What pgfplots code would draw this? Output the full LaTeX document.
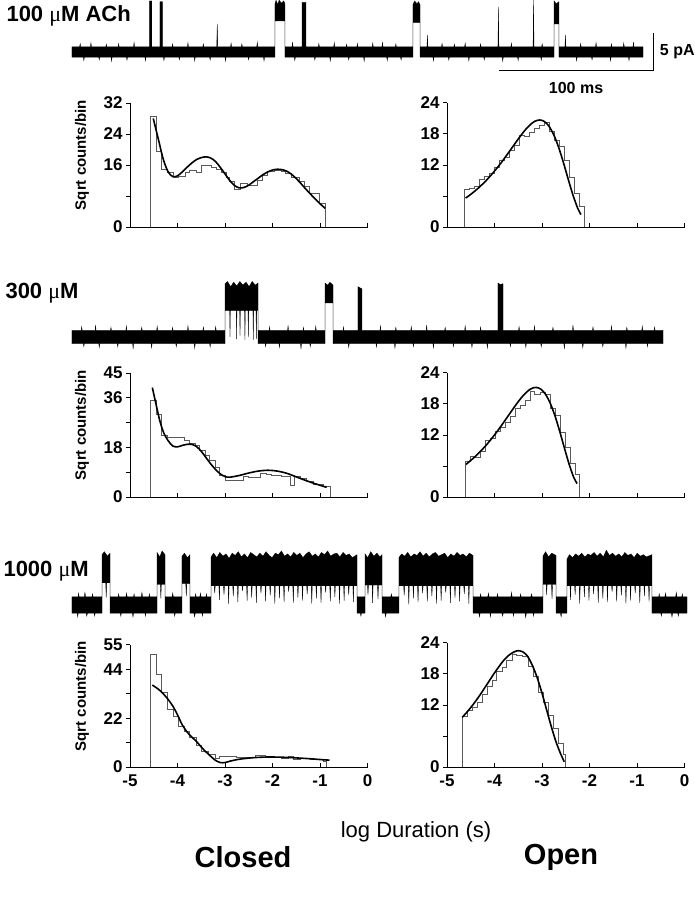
\documentclass[border=0pt]{standalone}
\usepackage{fontspec}
\setmainfont{Liberation Sans}
\newfontfamily\symfont{Liberation Serif}
\usepackage{pgfplots}
\pgfplotsset{compat=1.18}

\newcommand{\mic}{{\symfont\mdseries μ}}

\pgfplotsset{
  histax/.style={x=47.5pt, xmin=-5, xmax=0, ymin=0, enlargelimits=false,
    axis x line*=bottom, axis y line*=left,
    axis line style={-, line width=0.9pt},
    tick align=outside, major tick length=4pt,
    every x tick/.append style={yshift=4pt},
    tick style={line width=0.9pt, black},
    xtick={-5,-4,-3,-2,-1,0}, xticklabels={},
    ticklabel style={font=\bfseries\fontsize{17}{17}\selectfont},
    anchor=south west, clip=false},
  ylab/.style={ylabel={Sqrt counts/bin},
    ylabel style={at={(rel axis cs:-0.202,0.58)}, anchor=center,
      font=\bfseries\fontsize{15}{15}\selectfont}},
  bottomrow/.style={xticklabels={-5,-4,-3,-2,-1,0}},
  hst/.style={const plot, no marks, draw=black!65, line width=0.8pt},
  fit/.style={smooth, no marks, black, line width=1.6pt},
  trace/.style={hide axis, clip=false, x=1.54pt, y=7.4pt, xmin=0, ymin=-2,
    ymax=8, enlargelimits=false, anchor=south west},
  tr/.style={fill=black, draw=black, line width=0.3pt},
}

\begin{document}
\begin{tikzpicture}
\path[use as bounding box] (0pt,0pt) rectangle (695pt,900pt);

% ---------------- traces ----------------
\begin{axis}[trace, xmax=371, at={(72pt,833.2pt)}]
\addplot[tr] coordinates {
(0,0.7)(5,0.7)(5.3,1.15)(5.6,0.7)(12,0.7)(12.3,1.25)(12.6,0.7)(22,0.7)(22.3,1.05)(22.6,0.7)
(30,0.7)(30.3,1.15)(30.6,0.7)(40,0.7)(40.3,1.3)(40.6,0.7)
(50.3,0.7)(50.3,6.9)(51.8,6.9)(51.8,0.7)
(57.1,0.7)(57.1,6.8)(58.8,6.8)(58.8,0.7)
(65,0.7)(65.3,1.1)(65.6,0.7)(75,0.7)(75.3,1.25)(75.6,0.7)(85,0.7)(85.3,1.1)(85.6,0.7)
(94,0.7)(94.3,3.8)(94.6,0.7)(103,0.7)(103.3,1.2)(103.6,0.7)(110,0.7)(110.3,1.1)(110.6,0.7)
(120,0.7)(120.3,1.3)(120.6,0.7)
(131.8,0.7)(131.8,6.5)(132.5,7.0)(133.5,6.4)(134.5,7.0)(136,6.6)(137.5,6.9)(138.3,6.5)(138.3,0.7)
(142.9,0.7)(143.2,1.35)(143.5,0.7)
(149.4,0.7)(149.4,6.7)(151.9,6.7)(151.9,0.7)
(160,0.7)(160.3,1.15)(160.6,0.7)(170,0.7)(170.3,1.25)(170.6,0.7)(178,0.7)(178.3,1.05)(178.6,0.7)
(185,0.7)(185.3,1.15)(185.6,0.7)(195,0.7)(195.3,1.2)(195.6,0.7)
(201.3,0.7)(201.6,1.35)(201.9,0.7)(210,0.7)(210.3,1.1)(210.6,0.7)
(221.4,0.7)(221.4,6.4)(222.5,6.9)(224,6.5)(225,6.8)(226,6.4)(226,0.7)
(230.5,0.7)(230.8,2.3)(231.1,0.7)(240,0.7)(240.3,1.15)(240.6,0.7)(248,0.7)(248.3,1.05)(248.6,0.7)
(255,0.7)(255.3,1.2)(255.6,0.7)(265,0.7)(265.3,1.1)(265.6,0.7)
(276.6,0.7)(276.9,6.1)(277.2,0.7)(285,0.7)(285.3,1.2)(285.6,0.7)
(299.4,0.7)(299.7,7.0)(300.0,0.7)(305,0.7)(305.3,1.1)(305.6,0.7)
(313.0,0.7)(313.0,6.9)(314.5,6.5)(316.2,6.8)(316.2,0.7)
(320.1,0.7)(320.4,2.3)(320.7,0.7)(330,0.7)(330.3,1.15)(330.6,0.7)(340,0.7)(340.3,1.25)(340.6,0.7)
(350,0.7)(350.3,1.1)(350.6,0.7)(358,0.7)(358.3,1.2)(358.6,0.7)
(364.3,0.7)(364.6,1.35)(364.9,0.7)(370.8,0.7)
(370.8,-0.7)(362,-0.7)(361.7,-1.15)(361.4,-0.7)(350,-0.7)(349.7,-1.2)(349.4,-0.7)
(338,-0.7)(337.7,-1.05)(337.4,-0.7)(328,-0.7)(327.7,-1.2)(327.4,-0.7)
(316.2,-0.7)(316.2,3.8)(313.0,3.8)(313.0,-0.7)
(305,-0.7)(304.7,-1.1)(304.4,-0.7)(290,-0.7)(289.7,-1.15)(289.4,-0.7)(280,-0.7)(279.7,-1.25)(279.4,-0.7)
(268,-0.7)(267.7,-1.05)(267.4,-0.7)(258,-0.7)(257.7,-1.2)(257.4,-0.7)(245,-0.7)(244.7,-1.1)(244.4,-0.7)
(235,-0.7)(234.7,-1.2)(234.4,-0.7)
(226,-0.7)(226,4.0)(221.4,4.0)(221.4,-0.7)
(214,-0.7)(213.7,-1.1)(213.4,-0.7)(205,-0.7)(204.7,-1.15)(204.4,-0.7)(190,-0.7)(189.7,-1.25)(189.4,-0.7)
(180,-0.7)(179.7,-1.05)(179.4,-0.7)(168,-0.7)(167.7,-1.2)(167.4,-0.7)(158,-0.7)(157.7,-1.1)(157.4,-0.7)
(145,-0.7)(144.7,-1.15)(144.4,-0.7)
(138.3,-0.7)(138.3,4.2)(131.8,4.2)(131.8,-0.7)
(125,-0.7)(124.7,-1.2)(124.4,-0.7)(115,-0.7)(114.7,-1.05)(114.4,-0.7)(100,-0.7)(99.7,-1.25)(99.4,-0.7)
(90,-0.7)(89.7,-1.1)(89.4,-0.7)(80,-0.7)(79.7,-1.2)(79.4,-0.7)(70,-0.7)(69.7,-1.05)(69.4,-0.7)
(60,-0.7)(59.7,-1.15)(59.4,-0.7)(48,-0.7)(47.7,-1.2)(47.4,-0.7)(36,-0.7)(35.7,-1.1)(35.4,-0.7)
(26,-0.7)(25.7,-1.25)(25.4,-0.7)(18,-0.7)(17.7,-1.05)(17.4,-0.7)(8,-0.7)(7.7,-1.15)(7.4,-0.7)(0,-0.7)
} -- cycle;
% scale bar: 100 ms, 5 pA
\addplot[black, line width=0.9pt] coordinates {(277.3,-2.43)(377.3,-2.43)(377.3,2.57)};
\node[anchor=west, font=\bfseries\fontsize{16}{16}\selectfont] at (axis cs:379.5,0.07) {5 pA};
\node[font=\bfseries\fontsize{16}{16}\selectfont] at (axis cs:327.3,-4.86) {100 ms};
\end{axis}

\begin{axis}[trace, xmax=384, at={(72pt,548.2pt)}]
\addplot[tr] coordinates {
(0,0.9)(6,0.9)(6.3,1.4)(6.6,0.9)(15,0.9)(15.3,1.6)(15.6,0.9)(25,0.9)(25.3,1.3)(25.6,0.9)
(35,0.9)(35.3,1.5)(35.6,0.9)(45,0.9)(45.3,1.3)(45.6,0.9)(55,0.9)(55.3,1.45)(55.6,0.9)
(65,0.9)(65.3,1.3)(65.6,0.9)(75,0.9)(75.3,1.5)(75.6,0.9)(85,0.9)(85.3,1.35)(85.6,0.9)(93,0.9)(93.3,1.4)(93.6,0.9)
(99.4,0.9)(99.4,7.2)(101,7.5)(103,6.8)(105,7.4)(107,6.9)(109,7.5)(111,7.0)(113,7.4)(115,6.8)(117,7.5)(119,7.0)(120.8,7.3)(120.8,0.9)
(128,0.9)(128.3,1.4)(128.6,0.9)(140,0.9)(140.3,1.5)(140.6,0.9)(150,0.9)(150.3,1.3)(150.6,0.9)(158,0.9)(158.3,1.45)(158.6,0.9)
(164.3,0.9)(164.3,7.3)(166,7.0)(167.5,7.4)(169.5,7.0)(169.5,0.9)
(176,0.9)(176.3,1.35)(176.6,0.9)
(185.7,0.9)(185.7,6.8)(188.3,6.5)(188.3,0.9)
(200,0.9)(200.3,1.5)(200.6,0.9)(210,0.9)(210.3,1.3)(210.6,0.9)(220,0.9)(220.3,1.4)(220.6,0.9)
(230,0.9)(230.3,1.6)(230.6,0.9)(242,0.9)(242.3,1.3)(242.6,0.9)(255,0.9)(255.3,1.5)(255.6,0.9)
(265,0.9)(265.3,1.35)(265.6,0.9)
(276.6,0.9)(276.6,7.3)(278,7.1)(279.9,7.2)(279.9,0.9)
(290,0.9)(290.3,1.4)(290.6,0.9)(300,0.9)(300.3,1.5)(300.6,0.9)(312,0.9)(312.3,1.3)(312.6,0.9)
(325,0.9)(325.3,1.6)(325.6,0.9)(338,0.9)(338.3,1.35)(338.6,0.9)(350,0.9)(350.3,1.5)(350.6,0.9)
(360,0.9)(360.3,1.3)(360.6,0.9)(370,0.9)(370.3,1.45)(370.6,0.9)(378,0.9)(378.3,1.35)(378.6,0.9)(383.8,0.9)
(383.8,-0.9)(374,-0.9)(373.7,-1.3)(373.4,-0.9)(360,-0.9)(359.7,-1.5)(359.4,-0.9)(345,-0.9)(344.7,-1.3)(344.4,-0.9)
(332,-0.9)(331.7,-1.45)(331.4,-0.9)(320,-0.9)(319.7,-1.6)(319.4,-0.9)(305,-0.9)(304.7,-1.3)(304.4,-0.9)
(295,-0.9)(294.7,-1.4)(294.4,-0.9)(285,-0.9)(284.7,-1.3)(284.4,-0.9)(270,-0.9)(269.7,-1.5)(269.4,-0.9)
(260,-0.9)(259.7,-1.4)(259.4,-0.9)(248,-0.9)(247.7,-1.3)(247.4,-0.9)(235,-0.9)(234.7,-1.45)(234.4,-0.9)
(222,-0.9)(221.7,-1.3)(221.4,-0.9)(210,-0.9)(209.7,-1.5)(209.4,-0.9)(198,-0.9)(197.7,-1.35)(197.4,-0.9)
(180,-0.9)(179.7,-1.4)(179.4,-0.9)
(169.5,-0.9)(169.5,4.6)(164.3,4.6)(164.3,-0.9)
(155,-0.9)(154.7,-1.3)(154.4,-0.9)(149,-0.9)(148.7,-1.6)(148.4,-0.9)(135,-0.9)(134.7,-1.4)(134.4,-0.9)(126,-0.9)(125.7,-1.3)(125.4,-0.9)
(120.8,-0.9)(120.8,3.6)(119.9,3.6)(119.7,-0.3)(119.5,3.6)(117.9,3.6)(117.7,-0.4)(117.5,3.6)
(114.7,3.6)(114.5,0.0)(114.3,3.6)(112.5,3.6)(112.3,-0.4)(112.1,3.6)(109.3,3.6)(109.1,0.2)(108.9,3.6)
(107.1,3.6)(106.9,-0.3)(106.7,3.6)(102.8,3.6)(102.6,0.0)(102.4,3.6)(99.4,3.6)(99.4,-0.9)
(90,-0.9)(89.7,-1.35)(89.4,-0.9)(80,-0.9)(79.7,-1.5)(79.4,-0.9)(68,-0.9)(67.7,-1.3)(67.4,-0.9)
(52,-0.9)(51.7,-1.45)(51.4,-0.9)(40,-0.9)(39.7,-1.6)(39.4,-0.9)(30,-0.9)(29.7,-1.3)(29.4,-0.9)
(18,-0.9)(17.7,-1.4)(17.4,-0.9)(8,-0.9)(7.7,-1.3)(7.4,-0.9)(0,-0.9)
} -- cycle;
\end{axis}

\begin{axis}[trace, xmax=400, at={(72pt,280.2pt)}]
\addplot[tr] coordinates {
(0,1.1)(4,1.1)(4.3,1.6)(4.6,1.1)(8,1.1)(8.4,1.7)(8.8,1.1)(13,1.1)(13.3,1.5)(13.6,1.1)
(19.5,1.1)(19.5,6.8)(21,7.2)(23,6.6)(24.7,7.0)(24.7,1.1)
(30,1.1)(30.3,1.5)(30.6,1.1)(35,1.1)(35.4,1.6)(35.8,1.1)(40,1.1)(40.3,1.5)(40.6,1.1)(45,1.1)(45.4,1.7)(45.8,1.1)(50,1.1)(50.3,1.5)(50.6,1.1)
(55.2,1.1)(55.2,7.1)(57,6.5)(58.5,7.3)(60.4,6.8)(60.4,1.1)
(65,1.1)(65.4,1.6)(65.8,1.1)
(71.4,1.1)(71.4,6.6)(73,7.0)(75,6.4)(76.6,6.8)(76.6,1.1)
(80,1.1)(80.3,1.5)(80.6,1.1)(83,1.1)(83.4,1.6)(83.8,1.1)(87,1.1)(87.3,1.5)(87.6,1.1)
(90.3,1.1)(90.3,6.5)(92,7.0)(94,6.4)(96,7.1)(98,6.6)(100,6.9)(102,6.3)(104,7.0)(106,6.7)(108,7.2)
(110,6.5)(112,6.9)(114,6.4)(116,7.1)(118,6.8)(120,6.5)(122,7.0)(124,6.6)(126,7.2)(128,6.7)(130,6.4)
(132,7.0)(134,6.8)(136,7.3)(138,6.6)(140,6.9)(142,6.5)(144,7.1)(146,6.7)(148,7.0)(150,6.4)(152,6.9)
(154,7.2)(156,6.6)(158,6.9)(160,6.5)(162,7.1)(164,6.8)(166,7.3)(168,6.6)(170,6.9)(172,7.0)(174,6.5)
(176,7.1)(178,6.7)(180,6.9)(182,6.4)(185.1,6.8)(185.1,1.1)
(190.3,1.1)(190.3,6.9)(192,6.4)(194,7.2)(196,6.6)(198,7.0)(200,6.5)(201.3,6.8)(201.3,1.1)
(207,1.1)(207.4,1.5)(207.8,1.1)
(212.3,1.1)(212.3,6.4)(214,6.9)(216,6.6)(218,7.1)(220,6.5)(222,6.9)(224,6.7)(226,7.2)(228,6.6)
(230,7.0)(232,6.5)(234,6.9)(236,7.1)(238,6.6)(240,6.8)(242,7.0)(244,6.4)(246,6.9)(248,6.6)(250,7.1)
(252,6.7)(254,6.9)(256,6.5)(258,7.0)(260.4,6.7)(260.4,1.1)
(265,1.1)(265.3,1.5)(265.6,1.1)(270,1.1)(270.4,1.6)(270.8,1.1)(276,1.1)(276.3,1.5)(276.6,1.1)
(285,1.1)(285.4,1.7)(285.8,1.1)(291,1.1)(291.3,1.5)(291.6,1.1)(298,1.1)(298.4,1.5)(298.8,1.1)
(305.8,1.1)(305.8,6.6)(307.5,7.2)(309.5,6.5)(311.5,7.0)(314.3,6.7)(314.3,1.1)
(321.4,1.1)(321.4,6.2)(323,6.8)(325,6.4)(327,6.9)(329,6.6)(331,7.0)(333,6.5)(335,6.9)(337,6.7)
(339,7.1)(341,6.6)(343,7.0)(345,6.5)(347,7.4)(349,6.7)(351,7.0)(353,6.6)(355,6.9)(357,6.5)(359,7.1)
(361,6.7)(363,6.9)(365,6.4)(367,7.0)(369,6.6)(371,6.8)(373,6.5)(376.6,6.8)(376.6,1.1)
(381,1.1)(381.3,1.5)(381.6,1.1)(385,1.1)(385.4,1.6)(385.8,1.1)(392,1.1)(392.4,1.7)(392.8,1.1)(396,1.1)(396.3,1.5)(396.6,1.1)(399.4,1.1)
(399.4,-1.1)(394,-1.1)(393.7,-1.5)(393.4,-1.1)(390,-1.1)(389.6,-1.6)(389.2,-1.1)(383,-1.1)(382.7,-1.5)(382.4,-1.1)
(376.6,-1.1)(376.6,2.6)(375,2.6)(374.7,0.5)(374.4,2.6)(372,2.6)(371.7,1.2)(371.4,2.6)(369,2.6)(368.7,0.3)(368.4,2.6)
(366,2.6)(365.7,1.6)(365.4,2.6)(363,2.6)(362.7,0.6)(362.4,2.6)(360,2.6)(359.7,0.2)(359.4,2.6)
(357,2.6)(356.7,1.3)(356.4,2.6)(354,2.6)(353.7,0.5)(353.4,2.6)(351,2.6)(350.7,1.8)(350.4,2.6)
(348,2.6)(347.7,0.4)(347.4,2.6)(345,2.6)(344.7,0.9)(344.4,2.6)(342,2.6)(341.7,0.3)(341.4,2.6)
(339,2.6)(338.7,1.5)(338.4,2.6)(336,2.6)(335.7,0.6)(335.4,2.6)(333,2.6)(332.7,1.1)(332.4,2.6)
(330,2.6)(329.7,0.2)(329.4,2.6)(327,2.6)(326.7,1.4)(326.4,2.6)(324,2.6)(323.7,0.7)(323.4,2.6)(321.4,2.6)(321.4,-1.1)
(318,-1.1)(317.6,-1.6)(317.2,-1.1)
(314.3,-1.1)(314.3,2.8)(312,2.8)(311.7,0.8)(311.4,2.8)(308.5,2.8)(308.2,1.4)(307.9,2.8)(305.8,2.8)(305.8,-1.1)
(300,-1.1)(299.7,-1.5)(299.4,-1.1)(295,-1.1)(294.6,-1.7)(294.2,-1.1)(287,-1.1)(286.7,-1.5)(286.4,-1.1)
(280,-1.1)(279.6,-1.5)(279.2,-1.1)(272,-1.1)(271.7,-1.6)(271.4,-1.1)(265,-1.1)(264.6,-1.6)(264.2,-1.1)
(260.4,-1.1)(260.4,2.6)(258,2.6)(257.7,0.2)(257.4,2.6)(255,2.6)(254.7,1.5)(254.4,2.6)(252,2.6)(251.7,0.5)(251.4,2.6)
(249,2.6)(248.7,1.0)(248.4,2.6)(246,2.6)(245.7,0.3)(245.4,2.6)(243,2.6)(242.7,1.7)(242.4,2.6)
(240,2.6)(239.7,0.6)(239.4,2.6)(237,2.6)(236.7,0.2)(236.4,2.6)(234,2.6)(233.7,1.2)(233.4,2.6)
(231,2.6)(230.7,0.5)(230.4,2.6)(228,2.6)(227.7,1.6)(227.4,2.6)(225,2.6)(224.7,0.4)(224.4,2.6)
(222,2.6)(221.7,0.9)(221.4,2.6)(219,2.6)(218.7,0.1)(218.4,2.6)(216,2.6)(215.7,1.3)(215.4,2.6)(212.3,2.6)(212.3,-1.1)
(204,-1.1)(203.6,-1.6)(203.2,-1.1)
(201.3,-1.1)(201.3,2.7)(199,2.7)(198.7,0.8)(198.4,2.7)(195.5,2.7)(195.2,0.3)(194.9,2.7)(192.5,2.7)(192.2,1.4)(191.9,2.7)(190.3,2.7)(190.3,-1.1)
(188,-1.1)(187.6,-1.5)(187.2,-1.1)
(185.1,-1.1)(185.1,2.6)(183,2.6)(182.7,0.4)(182.4,2.6)(180,2.6)(179.7,1.4)(179.4,2.6)(177,2.6)(176.7,0.6)(176.4,2.6)
(174,2.6)(173.7,0.2)(173.4,2.6)(171,2.6)(170.7,1.1)(170.4,2.6)(168,2.6)(167.7,0.5)(167.4,2.6)
(165,2.6)(164.7,1.7)(164.4,2.6)(162,2.6)(161.7,0.3)(161.4,2.6)(159,2.6)(158.7,0.9)(158.4,2.6)
(156,2.6)(155.7,0.2)(155.4,2.6)(153,2.6)(152.7,1.5)(152.4,2.6)(150,2.6)(149.7,0.6)(149.4,2.6)
(147,2.6)(146.7,1.0)(146.4,2.6)(144,2.6)(143.7,0.3)(143.4,2.6)(141,2.6)(140.7,1.8)(140.4,2.6)
(138,2.6)(137.7,0.4)(137.4,2.6)(135,2.6)(134.7,0.9)(134.4,2.6)(132,2.6)(131.7,0.2)(131.4,2.6)
(129,2.6)(128.7,1.3)(128.4,2.6)(126,2.6)(125.7,0.5)(125.4,2.6)(123,2.6)(122.7,1.6)(122.4,2.6)
(120,2.6)(119.7,0.3)(119.4,2.6)(117,2.6)(116.7,1.0)(116.4,2.6)(114,2.6)(113.7,0.6)(113.4,2.6)
(111,2.6)(110.7,1.9)(110.4,2.6)(108,2.6)(107.7,0.4)(107.4,2.6)(105,2.6)(104.7,1.2)(104.4,2.6)
(102,2.6)(101.7,0.2)(101.4,2.6)(99,2.6)(98.7,1.4)(98.4,2.6)(96,2.6)(95.7,0.7)(95.4,2.6)
(93,2.6)(92.7,1.6)(92.4,2.6)(90.3,2.6)(90.3,-1.1)
(85,-1.1)(84.7,-1.5)(84.4,-1.1)(80,-1.1)(79.6,-1.6)(79.2,-1.1)
(76.6,-1.1)(76.6,2.9)(74.5,2.9)(74.2,1.2)(73.9,2.9)(71.4,2.9)(71.4,-1.1)
(67,-1.1)(66.7,-1.5)(66.4,-1.1)
(60.4,-1.1)(60.4,2.8)(58,2.8)(57.7,0.9)(57.4,2.8)(55.2,2.8)(55.2,-1.1)
(48,-1.1)(47.7,-1.5)(47.4,-1.1)(40,-1.1)(39.6,-1.6)(39.2,-1.1)(32,-1.1)(31.7,-1.5)(31.4,-1.1)
(24.7,-1.1)(24.7,3.0)(22.5,3.0)(22.2,1.0)(21.9,3.0)(19.5,3.0)(19.5,-1.1)
(15,-1.1)(14.7,-1.5)(14.4,-1.1)(10,-1.1)(9.6,-1.5)(9.2,-1.1)(4,-1.1)(3.7,-1.6)(3.4,-1.1)(0,-1.1)
} -- cycle;
\end{axis}

% ---------------- histograms, row 1 ----------------
\begin{axis}[histax, ylab, y=3.875pt, ymax=32, ytick={0,8,16,24,32},
  yticklabels={0,,16,24,32}, at={(130pt,673pt)}]
\addplot[hst] coordinates {(-4.58,0)(-4.58,28.6)(-4.44,19.4)(-4.33,14.9)(-4.21,14.0)(-4.08,12.7)
(-3.98,13.0)(-3.84,14.0)(-3.74,14.6)(-3.60,14.1)(-3.50,16.0)(-3.29,15.5)(-3.19,14.9)(-3.08,14.0)
(-2.98,12.7)(-2.91,11.7)(-2.81,9.7)(-2.67,11.3)(-2.53,10.8)(-2.32,12.1)(-2.21,13.4)(-2.11,14.3)
(-1.97,14.7)(-1.82,14.4)(-1.72,13.9)(-1.61,12.9)(-1.44,11.7)(-1.33,10.4)(-1.23,8.7)(-1.02,6.1)(-0.88,0)};
\addplot[fit] coordinates {(-4.51,28.0)(-4.4,22.5)(-4.3,17.5)(-4.2,14.3)(-4.1,13.0)(-4.0,13.2)
(-3.9,14.2)(-3.8,15.4)(-3.7,16.5)(-3.6,17.4)(-3.5,17.9)(-3.4,18.1)(-3.3,17.8)(-3.2,16.9)(-3.1,15.4)
(-3.0,13.7)(-2.9,12.0)(-2.8,10.7)(-2.7,10.1)(-2.6,10.2)(-2.5,10.8)(-2.4,11.7)(-2.3,12.6)(-2.2,13.5)
(-2.1,14.2)(-2.0,14.7)(-1.9,14.9)(-1.8,14.8)(-1.7,14.4)(-1.6,13.6)(-1.5,12.5)(-1.4,11.2)(-1.3,9.8)
(-1.2,8.5)(-1.1,7.2)(-1.0,6.0)(-0.89,4.8)};
\end{axis}

\begin{axis}[histax, y=5.17pt, ymax=24, ytick={0,6,12,18,24},
  yticklabels={0,,12,18,24}, at={(447pt,673pt)}]
\addplot[hst] coordinates {(-4.635,0)(-4.635,7.35)(-4.53,7.4)(-4.425,7.8)(-4.32,9.2)(-4.215,9.8)
(-4.11,10.4)(-4.005,11.5)(-3.90,12.9)(-3.795,13.4)(-3.69,14.8)(-3.585,15.7)(-3.48,17.8)(-3.375,17.5)
(-3.27,18.3)(-3.165,19.0)(-3.06,19.6)(-2.955,20.3)(-2.85,18.5)(-2.745,16.8)(-2.64,15.5)(-2.535,12.8)
(-2.43,9.5)(-2.325,6.5)(-2.22,3.9)(-2.115,0)};
\addplot[fit] coordinates {(-4.61,5.6)(-4.55,5.97)(-4.45,6.68)(-4.35,7.45)(-4.25,8.31)(-4.15,9.24)
(-4.05,10.27)(-3.95,11.37)(-3.85,12.55)(-3.75,13.80)(-3.65,15.09)(-3.55,16.38)(-3.45,17.65)
(-3.35,18.81)(-3.25,19.77)(-3.15,20.45)(-3.05,20.70)(-2.95,20.41)(-2.85,19.45)(-2.75,17.78)
(-2.65,15.41)(-2.55,12.49)(-2.45,9.30)(-2.35,6.23)(-2.25,3.66)(-2.18,2.4)};
\end{axis}

% ---------------- histograms, row 2 ----------------
\begin{axis}[histax, ylab, y=2.756pt, ymax=45, ytick={0,9,18,27,36,45},
  yticklabels={0,,18,,36,45}, at={(130pt,403pt)}]
\addplot[hst] coordinates {(-4.58,0)(-4.58,34.9)(-4.45,30.1)(-4.33,22.3)(-4.21,21.5)(-3.86,20.5)
(-3.74,19.5)(-3.63,18.7)(-3.53,16.9)(-3.42,15.1)(-3.32,13.3)(-3.21,10.7)(-3.11,7.9)(-3.00,6.1)
(-2.61,7.3)(-2.51,7.1)(-2.26,8.7)(-2.12,8.2)(-2.02,7.9)(-1.81,7.3)(-1.63,4.3)(-1.53,7.3)(-1.42,6.7)
(-1.28,5.5)(-1.14,4.7)(-0.93,3.7)(-0.79,0)};
\addplot[fit] coordinates {(-4.53,39.7)(-4.45,33.5)(-4.37,27.5)(-4.29,23.3)(-4.2,20.5)(-4.1,18.5)
(-4.0,18.2)(-3.9,18.7)(-3.8,19.1)(-3.7,19.1)(-3.6,18.3)(-3.5,16.6)(-3.4,14.3)(-3.3,12.0)(-3.2,10.0)
(-3.1,8.4)(-3.0,7.4)(-2.9,7.2)(-2.7,7.8)(-2.5,8.7)(-2.3,9.4)(-2.1,9.7)(-1.9,9.4)(-1.7,8.6)(-1.5,7.3)
(-1.3,6.0)(-1.1,4.8)(-0.86,3.5)};
\end{axis}

\begin{axis}[histax, y=5.17pt, ymax=24, ytick={0,6,12,18,24},
  yticklabels={0,,12,18,24}, at={(447pt,403pt)}]
\addplot[hst] coordinates {(-4.62,0)(-4.62,6.9)(-4.51,7.9)(-4.41,7.6)(-4.30,8.9)(-4.20,11.0)
(-4.09,11.3)(-3.99,12.6)(-3.88,13.5)(-3.78,14.5)(-3.67,15.5)(-3.57,17.1)(-3.46,17.7)(-3.36,18.6)
(-3.25,20.5)(-3.15,19.9)(-3.04,20.2)(-2.93,19.9)(-2.83,17.1)(-2.72,15.8)(-2.62,12.5)(-2.51,9.5)
(-2.41,6.5)(-2.30,4.4)(-2.22,0)};
\addplot[fit] coordinates {(-4.60,6.3)(-4.53,6.84)(-4.43,7.63)(-4.33,8.51)(-4.23,9.47)(-4.13,10.51)
(-4.03,11.65)(-3.93,12.86)(-3.83,14.13)(-3.73,15.45)(-3.63,16.78)(-3.53,18.07)(-3.43,19.26)
(-3.33,20.25)(-3.23,20.94)(-3.13,21.2)(-3.03,20.90)(-2.93,19.92)(-2.83,18.21)(-2.73,15.78)
(-2.63,12.79)(-2.53,9.53)(-2.43,6.38)(-2.33,3.74)(-2.26,2.6)};
\end{axis}

% ---------------- histograms, row 3 ----------------
\begin{axis}[histax, ylab, bottomrow, y=2.22pt, ymax=55, ytick={0,11,22,33,44,55},
  yticklabels={0,,22,,44,55}, at={(130pt,133pt)}]
\addplot[hst] coordinates {(-4.58,0)(-4.58,50.8)(-4.45,41.9)(-4.33,33.5)(-4.21,26.0)(-4.09,22.7)
(-3.98,18.5)(-3.86,16.2)(-3.74,13.2)(-3.61,9.9)(-3.49,7.0)(-3.35,5.5)(-3.21,3.8)(-3.11,4.6)
(-2.97,4.9)(-2.75,4.2)(-2.65,4.5)(-2.37,5.2)(-2.16,4.9)(-1.98,4.4)(-1.81,4.0)(-1.67,4.9)(-1.56,3.5)
(-1.42,3.8)(-1.21,3.2)(-0.93,2.5)(-0.86,0)};
\addplot[fit] coordinates {(-4.53,36.9)(-4.4,35.0)(-4.3,33.0)(-4.2,30.5)(-4.1,27.5)(-4.0,23.5)
(-3.9,19.0)(-3.8,15.8)(-3.7,13.5)(-3.6,11.5)(-3.5,9.0)(-3.4,6.8)(-3.3,4.8)(-3.2,3.0)(-3.1,2.0)
(-3.0,2.0)(-2.9,2.6)(-2.7,3.5)(-2.4,4.2)(-2.1,4.5)(-1.8,4.4)(-1.5,4.1)(-1.2,3.7)(-0.9,3.2)(-0.8,3.1)};
\end{axis}

\begin{axis}[histax, bottomrow, y=5.17pt, ymax=24, ytick={0,6,12,18,24},
  yticklabels={0,,12,18,24}, at={(447pt,133pt)}]
\addplot[hst] coordinates {(-4.68,0)(-4.68,9.8)(-4.58,11.0)(-4.47,11.6)(-4.37,12.5)(-4.26,14.0)
(-4.16,15.5)(-4.05,16.8)(-3.95,18.4)(-3.84,19.2)(-3.74,20.6)(-3.63,21.8)(-3.53,21.6)(-3.42,21.3)
(-3.29,19.5)(-3.19,17.5)(-3.08,14.5)(-2.98,12.5)(-2.87,10.0)(-2.77,7.5)(-2.66,4.5)(-2.56,2.5)(-2.50,0)};
\addplot[fit] coordinates {(-4.68,9.6)(-4.6,10.4)(-4.5,11.5)(-4.4,12.7)(-4.3,14.0)(-4.2,15.4)
(-4.1,16.8)(-4.0,18.2)(-3.9,19.5)(-3.8,20.7)(-3.7,21.6)(-3.6,22.2)(-3.51,22.5)(-3.41,22.3)
(-3.31,21.5)(-3.21,19.8)(-3.11,17.5)(-3.01,14.6)(-2.91,11.3)(-2.81,8.0)(-2.71,5.0)(-2.61,2.6)(-2.53,1.0)};
\end{axis}

% ---------------- text ----------------
\node[anchor=west, font=\bfseries\fontsize{22}{22}\selectfont] at (3pt,884pt) {100 \mic M ACh};
\node[anchor=west, font=\bfseries\fontsize{22}{22}\selectfont] at (2pt,607pt) {300 \mic M};
\node[anchor=west, font=\bfseries\fontsize{22}{22}\selectfont] at (0pt,329pt) {1000 \mic M};
\node[font=\fontsize{22}{22}\selectfont] at (416pt,68pt) {log Duration (s)};
\node[font=\bfseries\fontsize{29}{29}\selectfont] at (243pt,43pt) {Closed};
\node[font=\bfseries\fontsize{29}{29}\selectfont] at (561pt,43pt) {Open};
\end{tikzpicture}
\end{document}
